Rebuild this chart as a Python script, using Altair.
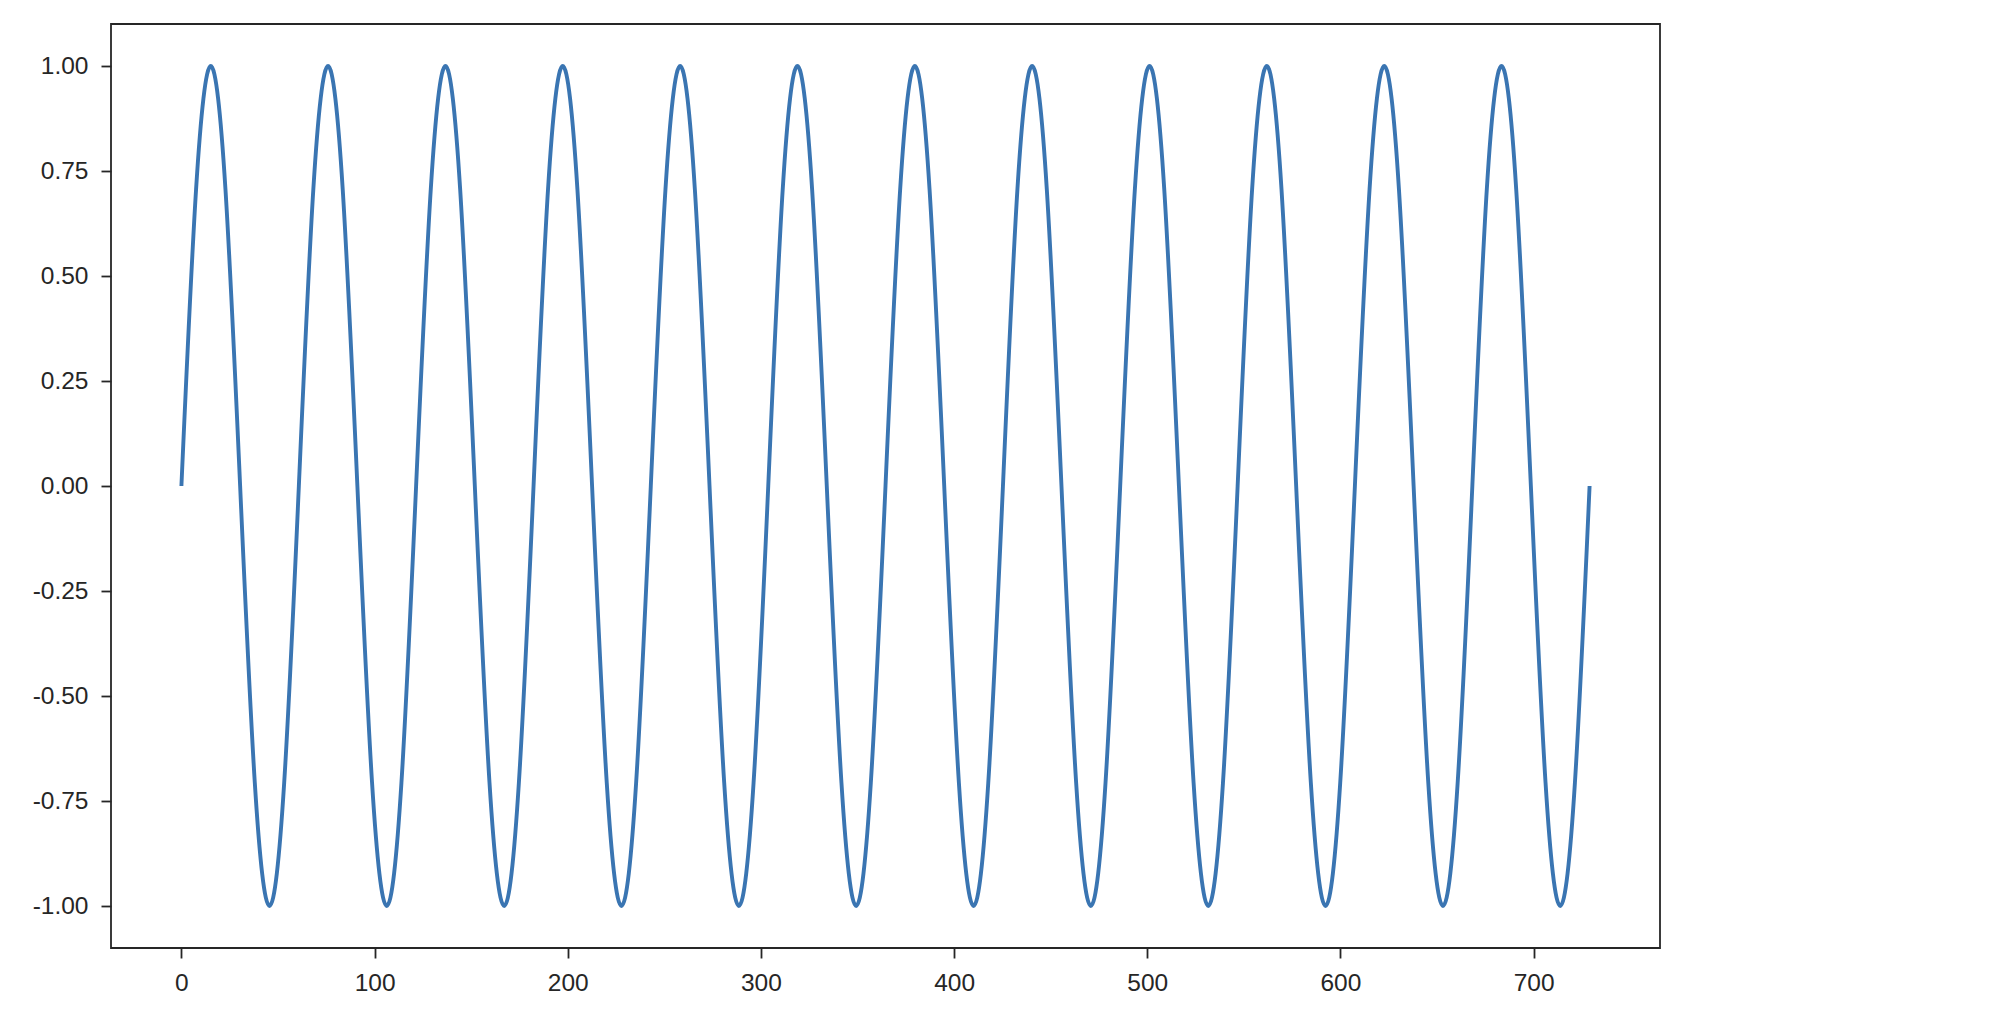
import altair as alt
import pandas as pd

# Sample points (every 1/8 of a cycle; 12 cycles from 0 to 729)
x_vals = [0.0, 7.6, 15.2, 22.8, 30.4, 38.0, 45.6, 53.2,
          60.8, 68.3, 75.9, 83.5, 91.1, 98.7, 106.3, 113.9,
          121.5, 129.1, 136.7, 144.3, 151.9, 159.5, 167.1, 174.7,
          182.3, 189.8, 197.4, 205.0, 212.6, 220.2, 227.8, 235.4,
          243.0, 250.6, 258.2, 265.8, 273.4, 281.0, 288.6, 296.2,
          303.8, 311.3, 318.9, 326.5, 334.1, 341.7, 349.3, 356.9,
          364.5, 372.1, 379.7, 387.3, 394.9, 402.5, 410.1, 417.7,
          425.3, 432.8, 440.4, 448.0, 455.6, 463.2, 470.8, 478.4,
          486.0, 493.6, 501.2, 508.8, 516.4, 524.0, 531.6, 539.2,
          546.8, 554.3, 561.9, 569.5, 577.1, 584.7, 592.3, 599.9,
          607.5, 615.1, 622.7, 630.3, 637.9, 645.5, 653.1, 660.7,
          668.3, 675.8, 683.4, 691.0, 698.6, 706.2, 713.8, 721.4,
          729.0]

y_vals = [0.0, 0.707, 1.0, 0.707, 0.0, -0.707, -1.0, -0.707,
          0.0, 0.707, 1.0, 0.707, 0.0, -0.707, -1.0, -0.707,
          0.0, 0.707, 1.0, 0.707, 0.0, -0.707, -1.0, -0.707,
          0.0, 0.707, 1.0, 0.707, 0.0, -0.707, -1.0, -0.707,
          0.0, 0.707, 1.0, 0.707, 0.0, -0.707, -1.0, -0.707,
          0.0, 0.707, 1.0, 0.707, 0.0, -0.707, -1.0, -0.707,
          0.0, 0.707, 1.0, 0.707, 0.0, -0.707, -1.0, -0.707,
          0.0, 0.707, 1.0, 0.707, 0.0, -0.707, -1.0, -0.707,
          0.0, 0.707, 1.0, 0.707, 0.0, -0.707, -1.0, -0.707,
          0.0, 0.707, 1.0, 0.707, 0.0, -0.707, -1.0, -0.707,
          0.0, 0.707, 1.0, 0.707, 0.0, -0.707, -1.0, -0.707,
          0.0, 0.707, 1.0, 0.707, 0.0, -0.707, -1.0, -0.707,
          0.0]

x_ticks = [0, 100, 200, 300, 400, 500, 600, 700]
y_ticks = [-1.0, -0.75, -0.5, -0.25, 0.0, 0.25, 0.5, 0.75, 1.0]

df = pd.DataFrame({"x": x_vals, "y": y_vals})

FONT = "Liberation Sans"
DARK = "#262626"

chart = alt.Chart(df).mark_line(
    interpolate="natural", color="#3a75b2", strokeWidth=3.9
).encode(
    x=alt.X("x:Q", scale=alt.Scale(domain=[-36.45, 765.45], nice=False, zero=False),
            axis=alt.Axis(values=x_ticks, format="d", title=None)),
    y=alt.Y("y:Q", scale=alt.Scale(domain=[-1.1, 1.1], nice=False),
            axis=alt.Axis(values=y_ticks, title=None,
                          labelExpr="replace(format(datum.value, '.2f'), '\u2212', '-')")),
).properties(
    width=1549, height=924,
    autosize=alt.AutoSizeParams(type="none"),
    padding={"left": 103, "top": 16, "right": 30, "bottom": 70},
).configure_view(
    stroke=DARK, strokeWidth=1.8
).configure_axis(
    grid=False, domain=False,
    ticks=True, tickSize=10, tickWidth=1.8, tickColor=DARK,
    labelFont=FONT, labelFontSize=24.5, labelColor=DARK, labelPadding=13,
)

chart.save("out.html", embed_options={"renderer": "svg", "actions": False})
